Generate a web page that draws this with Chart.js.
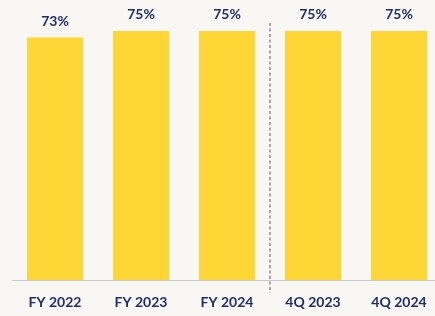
<!DOCTYPE html>
<html>
<head>
<meta charset="utf-8">
<script src="https://cdn.jsdelivr.net/npm/chart.js@4"></script>
<style>
  html, body { margin: 0; padding: 0; background: #f9f7f4; overflow: hidden; }
  #wrap { width: 442px; height: 316px; }
</style>
</head>
<body>
<div id="wrap"><canvas id="chart" width="442" height="316"></canvas></div>
<script>
// data
const categories = ['FY 2022', 'FY 2023', 'FY 2024', '4Q 2023', '4Q 2024'];
const values = [73, 75, 75, 75, 75];
const valueLabels = ['73%', '75%', '75%', '75%', '75%'];
const dividerAfter = 2; // dashed line between FY and quarterly bars

const NAVY = '#1f2d6b';
const YELLOW = '#fdd535';
const FONT = 'Lato, "Open Sans", sans-serif';

// value labels on top of bars
const valueLabelPlugin = {
  id: 'valueLabels',
  afterDatasetsDraw(chart) {
    const ctx = chart.ctx;
    const meta = chart.getDatasetMeta(0);
    ctx.save();
    ctx.fillStyle = NAVY;
    ctx.font = 'bold 14px ' + FONT;
    ctx.textAlign = 'center';
    ctx.textBaseline = 'alphabetic';
    meta.data.forEach((bar, i) => {
      ctx.fillText(valueLabels[i], bar.x, bar.y - 12);
    });
    ctx.restore();
  }
};

// dashed divider
const dividerPlugin = {
  id: 'divider',
  afterDraw(chart) {
    const x = chart.scales.x;
    const xPos = (x.getPixelForValue(dividerAfter) + x.getPixelForValue(dividerAfter + 1)) / 2;
    const ctx = chart.ctx;
    ctx.save();
    ctx.strokeStyle = '#6f6f6f';
    ctx.lineWidth = 1.2;
    ctx.setLineDash([3, 2.5]);
    ctx.beginPath();
    ctx.moveTo(xPos, chart.chartArea.top + 2);
    ctx.lineTo(xPos, chart.chartArea.bottom + 13);
    ctx.stroke();
    ctx.restore();
  }
};

new Chart(document.getElementById('chart'), {
  type: 'bar',
  data: {
    labels: categories,
    datasets: [{
      data: values,
      backgroundColor: YELLOW,
      borderWidth: 0,
      barPercentage: 0.651,
      categoryPercentage: 1
    }]
  },
  options: {
    responsive: false,
    animation: false,
    layout: { padding: { top: 21, left: 12, right: 0, bottom: 0 } },
    plugins: { legend: { display: false }, tooltip: { enabled: false } },
    scales: {
      y: { display: false, min: 0, max: 78 },
      x: {
        afterFit(scale) { scale.height = 36; },
        grid: { display: false, drawTicks: false },
        border: { display: true, color: '#c9c9c9', width: 1 },
        ticks: {
          padding: 14,
          color: NAVY,
          font: { family: FONT, size: 14, weight: 'bold' }
        }
      }
    }
  },
  plugins: [valueLabelPlugin, dividerPlugin]
});
</script>
</body>
</html>
